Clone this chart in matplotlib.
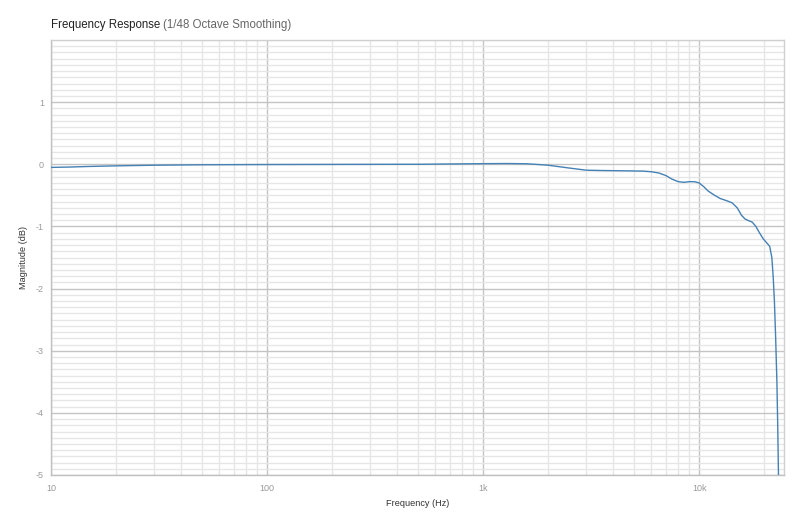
import matplotlib
matplotlib.use("Agg")
import matplotlib.pyplot as plt
from matplotlib.ticker import FixedLocator, NullFormatter, FixedFormatter
import numpy as np

plt.rcParams['font.family'] = ['Liberation Sans', 'DejaVu Sans']

freq_hz = [10, 12, 15, 20, 30, 50, 100, 200, 500, 1000, 1300, 1600, 2000, 2500,
           3000, 3500, 4500, 5500, 6000, 6500, 7000, 7500, 8000, 8500, 9000, 9500,
           10000, 10500, 11000, 11800, 12500, 13500, 14200, 15000, 15700, 16300,
           17000, 17600, 18300, 19000, 19800, 20500, 21200, 21700, 22000, 22300,
           22600, 22900, 23100, 23300]
magnitude_db = [-0.05, -0.045, -0.035, -0.025, -0.015, -0.008, -0.004, -0.002, 0.0,
                0.01, 0.012, 0.008, -0.015, -0.06, -0.095, -0.10, -0.105, -0.11,
                -0.12, -0.14, -0.18, -0.24, -0.28, -0.29, -0.28, -0.28, -0.30,
                -0.36, -0.43, -0.50, -0.55, -0.59, -0.62, -0.70, -0.82, -0.88,
                -0.91, -0.93, -1.00, -1.10, -1.20, -1.26, -1.32, -1.50, -1.80,
                -2.20, -2.80, -3.50, -4.20, -5.05]

x_major = [10, 100, 1000, 10000]
x_major_labels = ["10", "100", "1k", "10k"]
y_major = [-5, -4, -3, -2, -1, 0, 1]
y_major_labels = ["-5", "-4", "-3", "-2", "-1", "0", "1"]

fig = plt.figure(figsize=(8, 5.3), dpi=100)
ax = fig.add_axes([51/800, 55/530, 733/800, 435/530])

ax.plot(freq_hz, magnitude_db, color='#4581b4', lw=1.0, zorder=3)
ax.set_xscale('log')
ax.set_xlim(10, 24700)
ax.set_ylim(-5, 2)

ax.xaxis.set_major_locator(FixedLocator(x_major))
ax.xaxis.set_major_formatter(FixedFormatter(x_major_labels))
xminor = [m * 10**d for d in range(1, 5) for m in range(2, 10) if m * 10**d < 24700]
ax.xaxis.set_minor_locator(FixedLocator(xminor))
ax.xaxis.set_minor_formatter(NullFormatter())
ax.yaxis.set_major_locator(FixedLocator(y_major))
ax.yaxis.set_major_formatter(FixedFormatter(y_major_labels))
ax.yaxis.set_minor_locator(FixedLocator(np.round(np.arange(-5, 2.0001, 0.1), 2)))

ax.grid(which='major', color='#c4c4c4', lw=1.0, zorder=1)
ax.grid(which='minor', color='#e6e6e6', lw=1.0, zorder=0)
ax.tick_params(which='both', length=0, labelsize=6.5, labelcolor='#9a9a9a')
ax.tick_params(axis='x', pad=6.5)
ax.tick_params(axis='y', pad=5)
for s in ax.spines.values():
    s.set_color('#d0d0d0')
    s.set_linewidth(1.0)
ax.spines['left'].set_color('#c0c0c0')
ax.spines['bottom'].set_color('#c0c0c0')

ax.set_xlabel('Frequency (Hz)', fontsize=6.6, color='#333333', labelpad=4)
ax.set_ylabel('Magnitude (dB)', fontsize=6.6, color='#333333', labelpad=6)

t1 = fig.text(51/800, 1 - 25/530, 'Frequency Response', fontsize=8.3, color='#222222', va='center')
fig.canvas.draw()
bb = t1.get_window_extent()
fig.text(bb.x1 / 800 + 3/800, 1 - 25/530, '(1/48 Octave Smoothing)', fontsize=8.3, color='#666666', va='center')

fig.savefig('out.png', dpi=100)
